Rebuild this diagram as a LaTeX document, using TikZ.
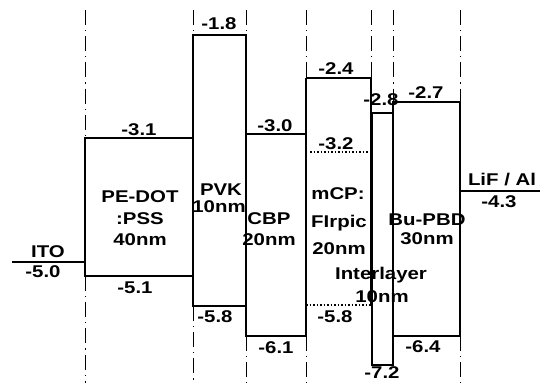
\documentclass[tikz,border=0pt]{standalone}
\usepackage{fontspec}
\setmainfont{Liberation Sans}
\newfontfamily\lblfont[FakeStretch=1.2]{Liberation Sans}
\begin{document}
\begin{tikzpicture}[x=1pt,y=-1pt,
  lbl/.style={font=\lblfont\bfseries\fontsize{17}{18}\selectfont, inner sep=0pt},
  lvl/.style={line width=2pt},
  guide/.style={line width=0.9pt, dash pattern=on 15pt off 5pt on 1.2pt off 5pt},
  dotlvl/.style={line width=2pt, dash pattern=on 1.5pt off 2pt}]
\useasboundingbox (0,0) rectangle (540,383);
% guides top
\foreach \x/\y in {85/138,193/35,246/35,306/78,371/78,393/102,460/102}
  \draw[guide] (\x,10) -- (\x,\y);
% guides bottom
\foreach \x/\y in {85/276,193/306,246/336,306/336,460/336}
  \draw[guide] (\x,\y) -- (\x,383);
% ITO
\draw[lvl] (12,262) -- (85,262);
% PEDOT
\draw[lvl] (85,138) rectangle (193,276);
% PVK
\draw[lvl] (193,35) rectangle (246,306);
% CBP
\draw[lvl] (246,134) rectangle (306,336);
% mCP
\draw[lvl] (306,78) -- (371,78) -- (371,305);
\draw[lvl] (306,78) -- (306,336);
\draw[dotlvl] (310,152) -- (371,152);
\draw[dotlvl] (306,305) -- (371,305);
% Interlayer
\draw[lvl] (372,113) rectangle (393,365);
% Bu-PBD
\draw[lvl] (393,102) rectangle (460,336);
% LiF/Al
\draw[lvl] (460,191) -- (540,191);
% labels
\node[lbl] (ito) at (48,252) {ITO};
\node[lbl] (e50) at (43,272) {-5.0};
\node[lbl] (pe1) at (140,197) {PE-DOT};
\node[lbl] (pe2) at (140,219) {:PSS};
\node[lbl] (pe3) at (140,240) {40nm};
\node[lbl] (e31) at (139,130) {-3.1};
\node[lbl] (e51) at (135,288) {-5.1};
\node[lbl] (pvk1) at (221,190) {PVK};
\node[lbl] (pvk2) at (219,207) {10nm};
\node[lbl] (e18) at (219,24) {-1.8};
\node[lbl] (e58a) at (215,317) {-5.8};
\node[lbl] (cbp1) at (269,219) {CBP};
\node[lbl] (cbp2) at (269,240) {20nm};
\node[lbl] (e30) at (275,126) {-3.0};
\node[lbl] (e61) at (276,348) {-6.1};
\node[lbl] (mcp1) at (338,194) {mCP:};
\node[lbl] (mcp2) at (339,223) {FIrpic};
\node[lbl] (mcp3) at (339,249) {20nm};
\node[lbl] (e24) at (336,69) {-2.4};
\node[lbl] (e32) at (336,144) {-3.2};
\node[lbl] (e58b) at (335,317) {-5.8};
\node[lbl] (int1) at (381,275) {Interlayer};
\node[lbl] (int2) at (382,297) {10nm};
\node[lbl] (e28) at (381,100) {-2.8};
\node[lbl] (e72) at (382,373) {-7.2};
\node[lbl] (bu1) at (427,220) {Bu-PBD};
\node[lbl] (bu2) at (427,239) {30nm};
\node[lbl] (e27) at (426,93) {-2.7};
\node[lbl] (e64) at (423,347) {-6.4};
\node[lbl] (lif) at (502,180) {LiF / Al};
\node[lbl] (e43) at (499,202) {-4.3};
\end{tikzpicture}
\end{document}
